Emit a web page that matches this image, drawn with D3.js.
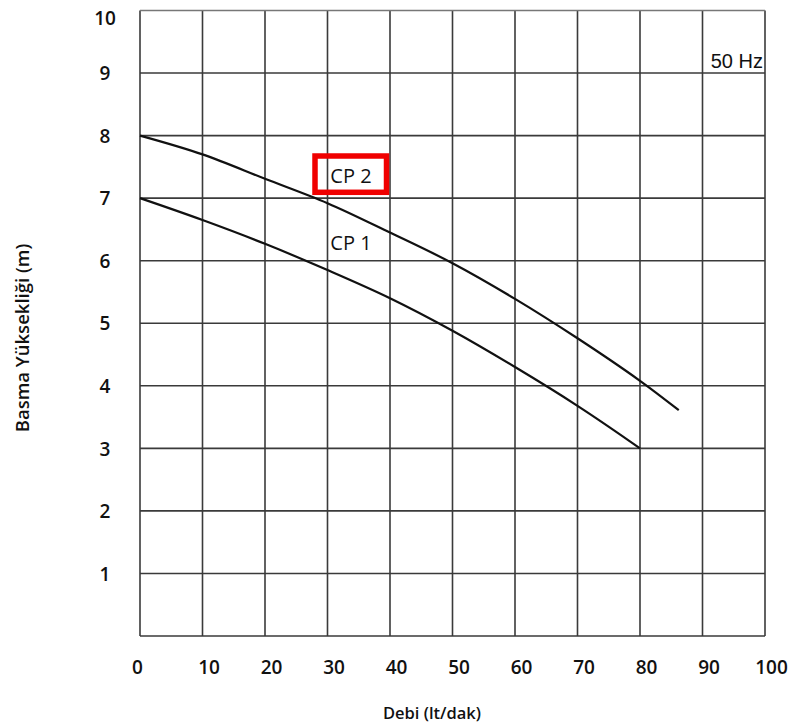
<!DOCTYPE html>
<html><head><meta charset="utf-8">
<script src="https://cdn.jsdelivr.net/npm/d3@7"></script>
<style>body{margin:0;background:#fff}svg{display:block}</style>
</head><body>
<script>
const xTicks = [0,10,20,30,40,50,60,70,80,90,100];
const yTicks = [1,2,3,4,5,6,7,8,9,10];
const cp2X = [0,10,20,30,40,50,60,70,80,86.2];
const cp2Y = [8,7.70,7.31,6.92,6.45,5.96,5.39,4.76,4.08,3.61];
const cp1X = [0,10,20,30,40,50,60,70,80];
const cp1Y = [7,6.65,6.27,5.85,5.40,4.88,4.30,3.68,3.0];
const seriesNames = ["CP 1","CP 2"];

const W=797,H=728;
const svg=d3.select("body").append("svg").attr("width",W).attr("height",H);
const x=d3.scaleLinear().domain([0,100]).range([140,765]);
const y=d3.scaleLinear().domain([0,10]).range([636,10.5]);
const font="'Open Sans', Lato, sans-serif";

// grid
const g=svg.append("g");
g.selectAll(".vx").data(xTicks).join("line")
 .attr("x1",d=>x(d)).attr("x2",d=>x(d)).attr("y1",y(0)).attr("y2",y(10))
 .attr("stroke","#3a3a3a").attr("stroke-width",1.6);
g.selectAll(".hy").data([0].concat(yTicks)).join("line")
 .attr("x1",x(0)).attr("x2",x(100)).attr("y1",d=>y(d)).attr("y2",d=>y(d))
 .attr("stroke",d=>d===10?"#777":"#3a3a3a").attr("stroke-width",1.6);

// axes labels
const xAxis=d3.axisBottom(x).tickValues(xTicks).tickSize(0).tickPadding(0);
const ax=svg.append("g").attr("transform",`translate(0,${y(0)})`).call(xAxis);
ax.select(".domain").remove();
ax.selectAll("text").attr("dy",0).attr("y",38).attr("dx",d=>d===0?-3:6)
 .attr("font-family",font).attr("font-weight",600).attr("font-size",19).attr("fill","#111");

const yAxis=d3.axisLeft(y).tickValues(yTicks).tickSize(0).tickPadding(0);
const ay=svg.append("g").attr("transform",`translate(${x(0)},0)`).call(yAxis);
ay.select(".domain").remove();
ay.selectAll("text").attr("x",-35).attr("text-anchor","middle")
 .attr("y",d=>d===10?7:0).attr("dy","0.35em")
 .attr("font-family",font).attr("font-weight",600).attr("font-size",19).attr("fill","#111");

svg.append("text").attr("x",432).attr("y",719).attr("text-anchor","middle")
 .attr("font-family",font).attr("font-weight",600).attr("font-size",16.5).attr("fill","#111").text("Debi (lt/dak)");
svg.append("text").attr("transform","translate(29,338) rotate(-90)").attr("text-anchor","middle")
 .attr("font-family",font).attr("font-weight",600).attr("font-size",18.5).attr("fill","#111").text("Basma Yüksekliği (m)");

// curves
const line=d3.line().x(d=>x(d[0])).y(d=>y(d[1])).curve(d3.curveCatmullRom.alpha(0.5));
const data=[d3.zip(cp1X,cp1Y),d3.zip(cp2X,cp2Y)];
svg.selectAll(".curve").data(data).join("path").attr("d",line)
 .attr("fill","none").attr("stroke","#111").attr("stroke-width",2.2);

// labels
svg.append("text").attr("x",351).attr("y",183).attr("text-anchor","middle")
 .attr("font-family",font).attr("font-size",20).attr("fill","#111").text(seriesNames[1]);
svg.append("rect").attr("x",315).attr("y",156).attr("width",71.5).attr("height",36.3)
 .attr("fill","none").attr("stroke","#f00000").attr("stroke-width",5.5);
svg.append("text").attr("x",351).attr("y",250).attr("text-anchor","middle")
 .attr("font-family",font).attr("font-size",20).attr("fill","#111").text(seriesNames[0]);
svg.append("text").attr("x",763).attr("y",68).attr("text-anchor","end")
 .attr("font-family","'Liberation Sans', Arial, sans-serif").attr("font-size",20).attr("fill","#111").text("50 Hz");
</script>
</body></html>
